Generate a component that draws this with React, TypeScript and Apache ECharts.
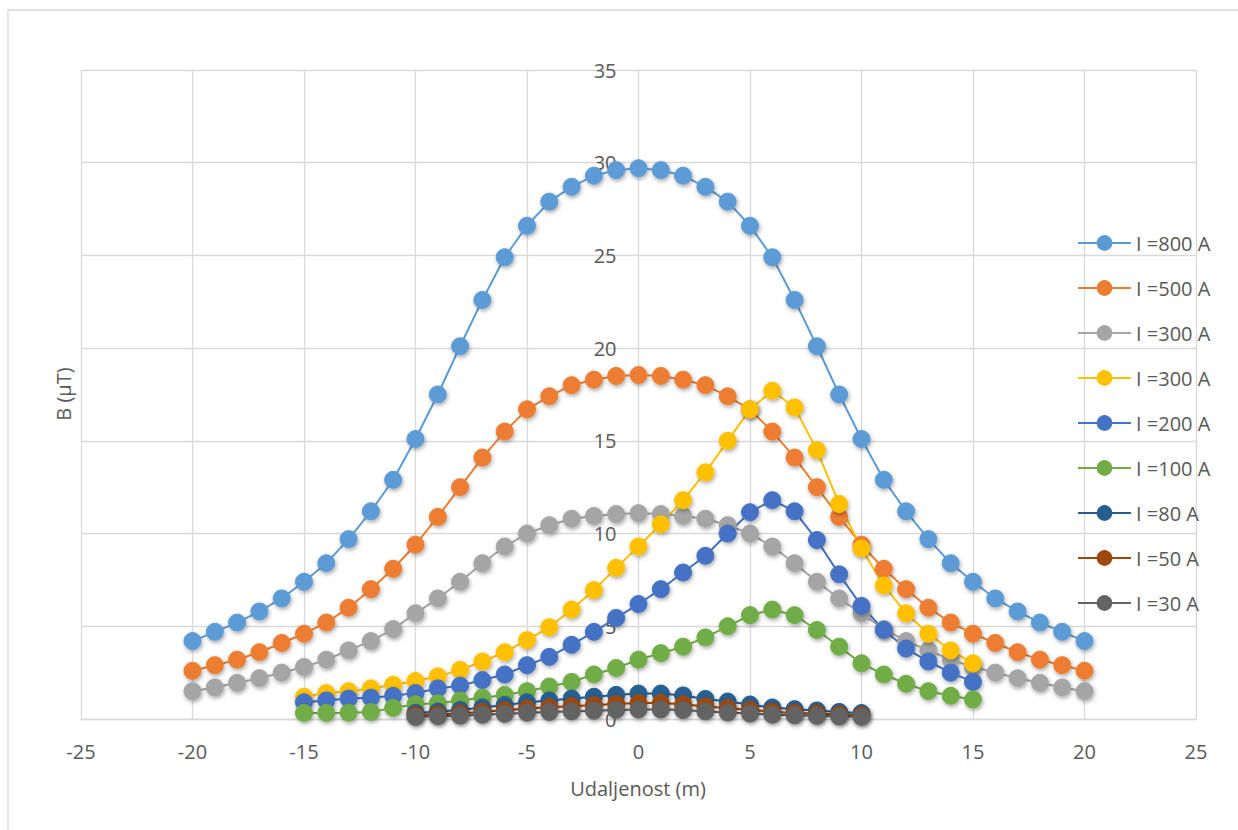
import React, { useEffect, useRef } from 'react';
import * as echarts from 'echarts';

const X_WIDE = [-20, -19, -18, -17, -16, -15, -14, -13, -12, -11, -10, -9, -8, -7, -6, -5, -4, -3, -2, -1, 0, 1, 2, 3, 4, 5, 6, 7, 8, 9, 10, 11, 12, 13, 14, 15, 16, 17, 18, 19, 20];
const X_MID = [-15, -14, -13, -12, -11, -10, -9, -8, -7, -6, -5, -4, -3, -2, -1, 0, 1, 2, 3, 4, 5, 6, 7, 8, 9, 10, 11, 12, 13, 14, 15];
const X_NARROW = [-10, -9, -8, -7, -6, -5, -4, -3, -2, -1, 0, 1, 2, 3, 4, 5, 6, 7, 8, 9, 10];

const B_800 = [4.2, 4.7, 5.2, 5.8, 6.5, 7.4, 8.4, 9.7, 11.2, 12.9, 15.1, 17.5, 20.1, 22.6, 24.9, 26.6, 27.9, 28.7, 29.3, 29.6, 29.7, 29.6, 29.3, 28.7, 27.9, 26.6, 24.9, 22.6, 20.1, 17.5, 15.1, 12.9, 11.2, 9.7, 8.4, 7.4, 6.5, 5.8, 5.2, 4.7, 4.2];
const B_500 = [2.6, 2.9, 3.2, 3.6, 4.1, 4.6, 5.2, 6.0, 7.0, 8.1, 9.4, 10.9, 12.5, 14.1, 15.5, 16.7, 17.4, 18.0, 18.3, 18.5, 18.55, 18.5, 18.3, 18.0, 17.4, 16.7, 15.5, 14.1, 12.5, 10.9, 9.4, 8.1, 7.0, 6.0, 5.2, 4.6, 4.1, 3.6, 3.2, 2.9, 2.6];
const B_300A = [1.5, 1.7, 1.95, 2.2, 2.5, 2.8, 3.2, 3.7, 4.2, 4.85, 5.7, 6.5, 7.4, 8.4, 9.3, 10.0, 10.45, 10.8, 10.95, 11.05, 11.1, 11.05, 10.95, 10.8, 10.45, 10.0, 9.3, 8.4, 7.4, 6.5, 5.7, 4.85, 4.2, 3.7, 3.2, 2.8, 2.5, 2.2, 1.95, 1.7, 1.5];
const B_300B = [1.2, 1.4, 1.5, 1.65, 1.85, 2.05, 2.3, 2.65, 3.1, 3.6, 4.25, 4.95, 5.9, 6.95, 8.15, 9.3, 10.5, 11.8, 13.3, 15.0, 16.7, 17.7, 16.8, 14.5, 11.6, 9.2, 7.2, 5.7, 4.6, 3.7, 3.0];
const B_200 = [0.9, 1.0, 1.1, 1.15, 1.25, 1.4, 1.65, 1.8, 2.1, 2.4, 2.9, 3.35, 4.0, 4.7, 5.45, 6.2, 7.0, 7.9, 8.8, 10.0, 11.15, 11.8, 11.2, 9.65, 7.8, 6.1, 4.8, 3.8, 3.1, 2.5, 2.0];
const B_100 = [0.33, 0.33, 0.34, 0.38, 0.6, 0.8, 0.85, 1.0, 1.15, 1.3, 1.5, 1.75, 2.0, 2.4, 2.75, 3.2, 3.55, 3.9, 4.4, 5.0, 5.6, 5.9, 5.6, 4.8, 3.9, 3.0, 2.4, 1.9, 1.5, 1.25, 1.05];
const B_80 = [0.33, 0.4, 0.48, 0.62, 0.75, 0.9, 1.0, 1.1, 1.2, 1.3, 1.37, 1.37, 1.27, 1.08, 0.94, 0.78, 0.62, 0.53, 0.46, 0.38, 0.32];
const B_50 = [0.21, 0.25, 0.3, 0.39, 0.47, 0.56, 0.63, 0.69, 0.75, 0.81, 0.86, 0.86, 0.79, 0.68, 0.59, 0.49, 0.39, 0.33, 0.29, 0.24, 0.2];
const B_30 = [0.12, 0.15, 0.18, 0.23, 0.28, 0.34, 0.38, 0.41, 0.45, 0.49, 0.51, 0.51, 0.48, 0.41, 0.35, 0.29, 0.23, 0.2, 0.17, 0.14, 0.12];

const SERIES_NAMES = ['I =800 A', 'I =500 A', 'I =300 A', 'I =300 A ', 'I =200 A', 'I =100 A', 'I =80 A', 'I =50 A', 'I =30 A'];
const SERIES_X = [X_WIDE, X_WIDE, X_WIDE, X_MID, X_MID, X_MID, X_NARROW, X_NARROW, X_NARROW];
const SERIES_Y = [B_800, B_500, B_300A, B_300B, B_200, B_100, B_80, B_50, B_30];
const COLORS = ['#5B9BD5', '#ED7D31', '#A5A5A5', '#FFC000', '#4472C4', '#70AD47', '#255E91', '#9E480E', '#636363'];

const X_TICKS = { min: -25, max: 25, interval: 5 };
const Y_TICKS = { min: 0, max: 35, interval: 5 };

const FONT = "'Open Sans', sans-serif";
const TEXT = '#595959';
const GRID = '#D9D9D9';

const GRID_LEFT = 81;
const GRID_RIGHT = 42;
const PLOT_W = 1238 - GRID_LEFT - GRID_RIGHT;

export default function App() {
  const ref = useRef<HTMLDivElement>(null);
  useEffect(() => {
    const chart = echarts.init(ref.current!, null, { renderer: 'svg' });
    const series = SERIES_NAMES.map((name, i) => ({
      name,
      type: 'line',
      data: SERIES_X[i].map((x, j) => [x, SERIES_Y[i][j]]),
      symbol: 'circle',
      symbolSize: 17,
      showSymbol: true,
      smooth: false,
      color: COLORS[i],
      lineStyle: { color: COLORS[i], width: 2 },
      itemStyle: {
        color: COLORS[i],
        borderColor: COLORS[i],
        borderWidth: 1,
        shadowBlur: 4,
        shadowColor: 'rgba(0,0,0,0.35)',
        shadowOffsetX: 1,
        shadowOffsetY: 2,
      },
      emphasis: { disabled: true },
      z: 2,
    }));
    // y axis crosses the x axis at x = 0 (Excel style)
    const zeroOffset = -((0 - X_TICKS.min) / (X_TICKS.max - X_TICKS.min)) * PLOT_W;
    chart.setOption({
      animation: false,
      backgroundColor: '#ffffff',
      textStyle: { fontFamily: FONT },
      grid: { left: GRID_LEFT, right: GRID_RIGHT, top: 70, bottom: 111 },
      xAxis: {
        type: 'value',
        ...X_TICKS,
        axisLine: { show: true, onZero: false, lineStyle: { color: GRID, width: 1.3 } },
        axisTick: { show: false },
        axisLabel: { color: TEXT, fontSize: 20, fontFamily: FONT, margin: 22 },
        splitLine: { show: true, lineStyle: { color: GRID, width: 1.3 } },
      },
      yAxis: {
        type: 'value',
        ...Y_TICKS,
        position: 'left',
        offset: zeroOffset,
        axisLine: { show: false, onZero: false },
        axisTick: { show: false },
        axisLabel: { color: TEXT, fontSize: 20, fontFamily: FONT, margin: 22 },
        splitLine: { show: true, lineStyle: { color: GRID, width: 1.3 } },
      },
      legend: {
        orient: 'vertical',
        left: 1077,
        top: 233,
        itemWidth: 53,
        itemHeight: 17,
        itemGap: 25,
        padding: 0,
        formatter: (n: string) => n.trim(),
        textStyle: { color: TEXT, fontSize: 20, fontFamily: FONT, lineHeight: 17 },
        data: SERIES_NAMES,
      },
      graphic: [
        {
          type: 'rect',
          shape: { x: 8, y: 10, width: 1260, height: 860 },
          style: { fill: 'none', stroke: GRID, lineWidth: 1.3 },
          silent: true,
        },
        {
          type: 'text',
          x: 638,
          y: 788,
          style: { text: 'Udaljenost (m)', fill: TEXT, fontSize: 20, fontFamily: FONT, align: 'center', verticalAlign: 'middle' },
        },
        {
          type: 'text',
          x: 63,
          y: 394,
          rotation: Math.PI / 2,
          style: { text: 'B (µT)', fill: TEXT, fontSize: 20, fontFamily: FONT, align: 'center', verticalAlign: 'middle' },
        },
      ],
      series,
    });
    return () => chart.dispose();
  }, []);
  return <div ref={ref} style={{ position: 'absolute', left: 0, top: 0, width: 1238, height: 830, background: '#fff' }} />;
}
